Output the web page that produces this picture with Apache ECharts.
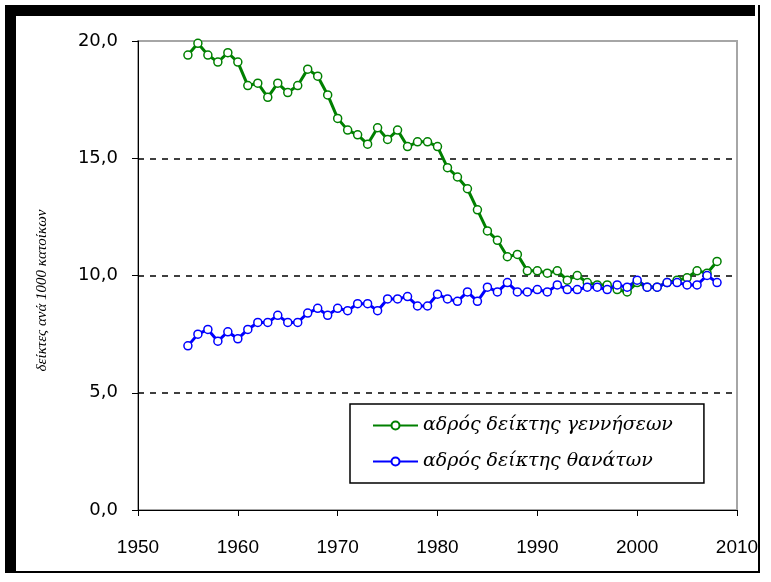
<!DOCTYPE html>
<html>
<head>
<meta charset="utf-8">
<script src="https://cdn.jsdelivr.net/npm/echarts@6/dist/echarts.min.js"></script>
<style>
  html, body { margin: 0; padding: 0; background: #fff; }
  #chart { width: 771px; height: 582px; }
</style>
</head>
<body>
<div id="chart"></div>
<script>
  // έτη 1955-2008
  var years = [];
  for (var y = 1955; y <= 2008; y++) years.push(y);

  var births = [
    19.4, 19.9, 19.4, 19.1, 19.5, 19.1, 18.1, 18.2, 17.6, 18.2,
    17.8, 18.1, 18.8, 18.5, 17.7, 16.7, 16.2, 16.0, 15.6, 16.3,
    15.8, 16.2, 15.5, 15.7, 15.7, 15.5, 14.6, 14.2, 13.7, 12.8,
    11.9, 11.5, 10.8, 10.9, 10.2, 10.2, 10.1, 10.2, 9.8, 10.0,
    9.7, 9.6, 9.6, 9.4, 9.3, 9.7, 9.5, 9.5, 9.7, 9.8,
    9.9, 10.2, 10.1, 10.6
  ];
  var deaths = [
    7.0, 7.5, 7.7, 7.2, 7.6, 7.3, 7.7, 8.0, 8.0, 8.3,
    8.0, 8.0, 8.4, 8.6, 8.3, 8.6, 8.5, 8.8, 8.8, 8.5,
    9.0, 9.0, 9.1, 8.7, 8.7, 9.2, 9.0, 8.9, 9.3, 8.9,
    9.5, 9.3, 9.7, 9.3, 9.3, 9.4, 9.3, 9.6, 9.4, 9.4,
    9.5, 9.5, 9.4, 9.6, 9.5, 9.8, 9.5, 9.5, 9.7, 9.7,
    9.6, 9.6, 10.0, 9.7
  ];
  var xTicks = [1950, 1960, 1970, 1980, 1990, 2000, 2010];
  var yTicks = [0, 5, 10, 15, 20];

  var chart = echarts.init(document.getElementById('chart'));

  function pairs(vals) {
    return years.map(function (yr, i) { return [yr, vals[i]]; });
  }

  var option = {
    backgroundColor: '#fff',
    animation: false,
    grid: {
      left: 138, right: 34, top: 41, bottom: 72,
      show: true, borderColor: '#a6a6a6', borderWidth: 2
    },
    legend: {
      orient: 'vertical',
      left: 350, top: 404,
      padding: [12, 31, 12, 22],
      itemGap: 17,
      itemWidth: 45, itemHeight: 10,
      backgroundColor: '#fff',
      borderColor: '#000', borderWidth: 1.5,
      textStyle: {
        fontFamily: 'DejaVu Serif', fontStyle: 'italic',
        fontSize: 19, color: '#000'
      },
      data: ['αδρός δείκτης γεννήσεων', 'αδρός δείκτης θανάτων']
    },
    xAxis: {
      type: 'value',
      min: xTicks[0], max: xTicks[xTicks.length - 1], interval: 10,
      axisLine: { show: true, lineStyle: { color: '#000', width: 1 } },
      axisTick: { show: true, length: 6, lineStyle: { color: '#000' } },
      axisLabel: {
        margin: 28, color: '#000',
        fontFamily: 'Liberation Sans', fontSize: 19,
        formatter: function (v) { return String(v); }
      },
      splitLine: { show: false }
    },
    yAxis: {
      type: 'value',
      min: yTicks[0], max: yTicks[yTicks.length - 1], interval: 5,
      name: 'δείκτες ανά 1000 κατοίκων',
      nameLocation: 'middle',
      nameGap: 88,
      nameTextStyle: {
        fontFamily: 'Liberation Serif', fontStyle: 'italic',
        fontSize: 15, color: '#000',
        padding: [0, 30, 0, 0]
      },
      axisLine: { show: true, lineStyle: { color: '#000', width: 1 } },
      axisTick: { show: true, length: 6, lineStyle: { color: '#000' } },
      axisLabel: {
        margin: 20, color: '#000',
        fontFamily: 'DejaVu Sans', fontSize: 18,
        formatter: function (v) { return v.toFixed(1).replace('.', ','); }
      },
      splitLine: {
        show: true,
        lineStyle: {
          color: ['transparent', '#000', '#000', '#000', 'transparent'],
          type: [6, 6], width: 1.5
        }
      }
    },
    series: [
      {
        name: 'αδρός δείκτης γεννήσεων',
        type: 'line',
        data: pairs(births),
        symbol: 'circle', symbolSize: 8,
        lineStyle: { color: '#008000', width: 3 },
        itemStyle: { color: '#fff', borderColor: '#008000', borderWidth: 1.5 }
      },
      {
        name: 'αδρός δείκτης θανάτων',
        type: 'line',
        data: pairs(deaths),
        symbol: 'circle', symbolSize: 8,
        lineStyle: { color: '#0000ff', width: 3 },
        itemStyle: { color: '#fff', borderColor: '#0000ff', borderWidth: 1.5 }
      }
    ],
    graphic: [
      { type: 'rect', shape: { x: 5, y: 5, width: 750, height: 11 }, style: { fill: '#000' } },
      { type: 'rect', shape: { x: 5, y: 5, width: 11, height: 568 }, style: { fill: '#000' } },
      { type: 'rect', shape: { x: 5, y: 571, width: 755, height: 2 }, style: { fill: '#000' } },
      { type: 'rect', shape: { x: 758, y: 5, width: 2, height: 568 }, style: { fill: '#000' } }
    ]
  };

  chart.setOption(option);
</script>
</body>
</html>
